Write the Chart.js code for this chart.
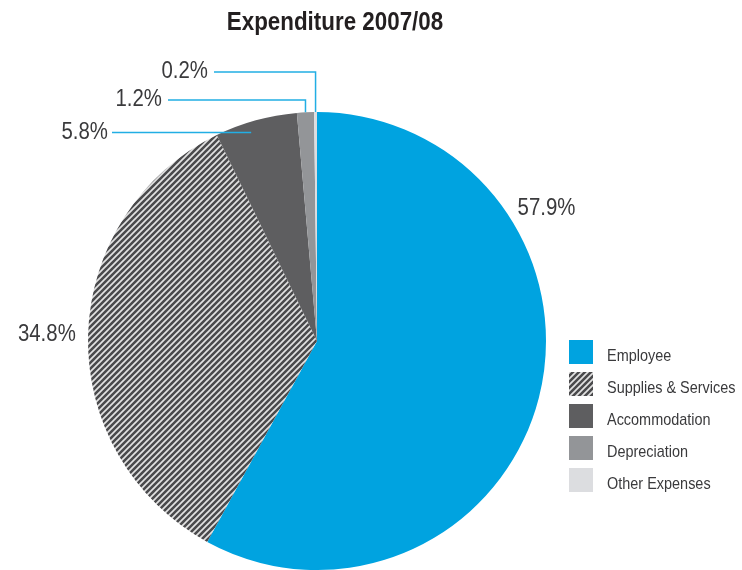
<!DOCTYPE html>
<html>
<head>
<meta charset="utf-8">
<script src="https://cdn.jsdelivr.net/npm/chart.js@4.4.1/dist/chart.umd.min.js"></script>
<style>
  html, body { margin: 0; padding: 0; background: #ffffff; }
  #wrap { position: relative; width: 742px; height: 570px; }
</style>
</head>
<body>
<div id="wrap"><canvas id="c" width="742" height="570"></canvas></div>
<script>
const chartTitle = 'Expenditure 2007/08';
const categories = ['Employee', 'Supplies & Services', 'Accommodation', 'Depreciation', 'Other Expenses'];
const values = [57.9, 34.8, 5.8, 1.2, 0.2];
const valueLabels = ['57.9%', '34.8%', '5.8%', '1.2%', '0.2%'];

const FONT = '"Liberation Sans", Arial, sans-serif';

function hatchPattern() {
  const s = 6;
  const c = document.createElement('canvas');
  c.width = s; c.height = s;
  const x = c.getContext('2d');
  x.fillStyle = '#4a4a4c';
  x.fillRect(0, 0, s, s);
  x.strokeStyle = '#e2e2e2';
  x.lineWidth = 1.7;
  x.beginPath();
  x.moveTo(0, s); x.lineTo(s, 0);
  x.moveTo(-1, 1); x.lineTo(1, -1);
  x.moveTo(s - 1, s + 1); x.lineTo(s + 1, s - 1);
  x.stroke();
  return x.createPattern(c, 'repeat');
}

const ctx0 = document.getElementById('c').getContext('2d');
const colors = ['#00a3e0', hatchPattern(), '#5e5e60', '#939598', '#dcdde0'];

function txt(ctx, s, x, y, align, sx) {
  ctx.save();
  ctx.translate(x, y);
  ctx.scale(sx, 1);
  ctx.textAlign = align;
  ctx.fillText(s, 0, 0);
  ctx.restore();
}

const decorPlugin = {
  id: 'decor',
  afterDraw(chart) {
    const ctx = chart.ctx;
    const meta = chart.getDatasetMeta(0);
    const arcs = meta.data;
    const cx = arcs[0].x, cy = arcs[0].y, R = arcs[0].outerRadius;

    ctx.save();
    ctx.textBaseline = 'middle';
    // title
    ctx.fillStyle = '#231f20';
    ctx.font = 'bold 25px ' + FONT;
    txt(ctx, chartTitle, 335, 23, 'center', 0.895);

    ctx.font = '24px ' + FONT;
    ctx.fillStyle = '#3a3a3c';
    const SX = 0.85;
    const mid = a => (a.startAngle + a.endAngle) / 2;

    // 57.9% label
    {
      const ang = -Math.PI / 2 + (60 * Math.PI / 180);
      const d = R * 1.157;
      txt(ctx, valueLabels[0], cx + d * Math.cos(ang), cy + d * Math.sin(ang), 'center', SX);
    }
    // 34.8% label
    {
      const ang = mid(arcs[1]);
      const d = R * 1.18;
      txt(ctx, valueLabels[1], cx + d * Math.cos(ang), cy + d * Math.sin(ang), 'center', SX);
    }
    ctx.strokeStyle = '#22aee4';
    ctx.lineWidth = 1.5;
    // 5.8% leader
    {
      const ang = mid(arcs[2]);
      const r = R * 0.945;
      const ax = cx + r * Math.cos(ang), ay = cy + r * Math.sin(ang);
      const ex = cx - 205;
      ctx.beginPath(); ctx.moveTo(ax - 8, ay); ctx.lineTo(ex, ay); ctx.stroke();
      txt(ctx, valueLabels[2], ex - 4, ay, 'right', SX);
    }
    // 1.2% and 0.2% leaders
    const tops = [[3, 12, 149], [4, 40, 103]];
    for (const [i, up, left] of tops) {
      const ang = mid(arcs[i]);
      const ax = cx + R * Math.cos(ang), ay = cy + R * Math.sin(ang);
      const ly = cy - R - up;
      const ex = cx - left;
      ctx.beginPath(); ctx.moveTo(ax, ay); ctx.lineTo(ax, ly); ctx.lineTo(ex, ly); ctx.stroke();
      txt(ctx, valueLabels[i], ex - 6, ly - 1, 'right', SX);
    }

    // legend
    ctx.font = '17px ' + FONT;
    categories.forEach((name, i) => {
      const y = 340 + i * 32;
      ctx.fillStyle = colors[i];
      ctx.fillRect(569, y, 24, 24);
      ctx.fillStyle = '#3a3a3c';
      txt(ctx, name, 607, y + 16.5, 'left', 0.85);
    });
    ctx.restore();
  }
};

new Chart(ctx0, {
  type: 'pie',
  data: {
    labels: categories,
    datasets: [{
      data: values,
      backgroundColor: colors,
      borderWidth: 0
    }]
  },
  options: {
    responsive: false,
    animation: false,
    layout: { padding: { left: 88, right: 196, top: 112, bottom: 0 } },
    plugins: {
      legend: { display: false },
      title: { display: false },
      tooltip: { enabled: false }
    }
  },
  plugins: [decorPlugin]
});
</script>
</body>
</html>
